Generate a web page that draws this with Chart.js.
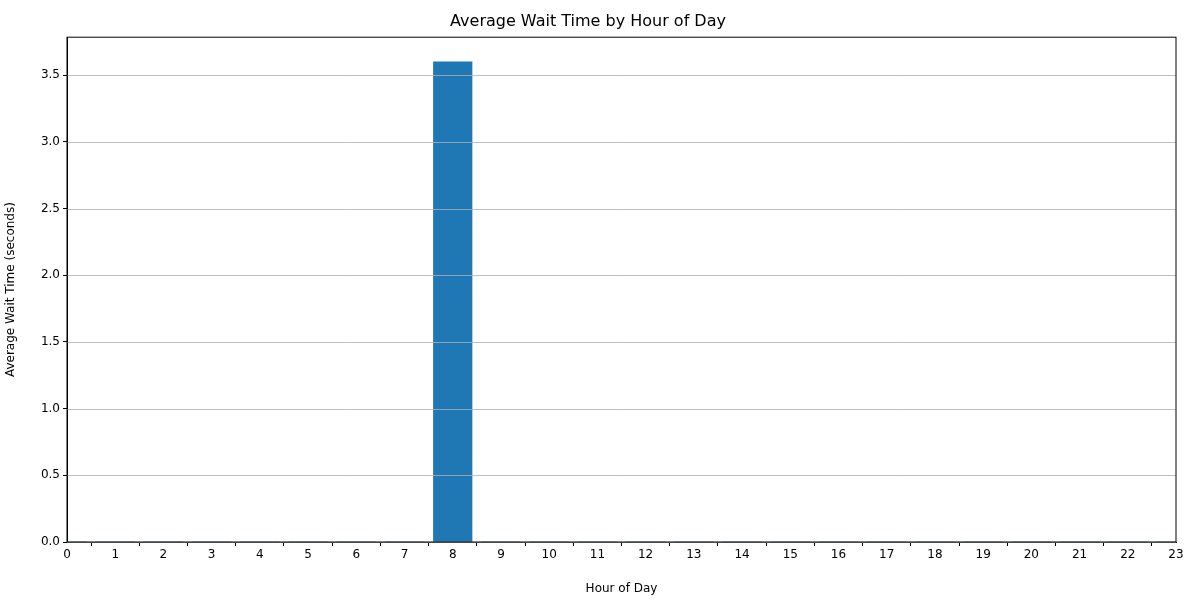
<!DOCTYPE html>
<html>
<head>
<meta charset="utf-8">
<script src="https://cdn.jsdelivr.net/npm/chart.js@4/dist/chart.umd.min.js"></script>
<style>body{margin:0;background:#fff}#wrap{width:1200px;height:600px}</style>
</head>
<body>
<div id="wrap"><canvas id="chart"></canvas></div>
<script>
const hours = [0,1,2,3,4,5,6,7,8,9,10,11,12,13,14,15,16,17,18,19,20,21,22,23];
const waitTimes = [0,0,0,0,0,0,0,0,3.6,0,0,0,0,0,0,0,0,0,0,0,0,0,0,0];
const yTicks = [0, 0.5, 1.0, 1.5, 2.0, 2.5, 3.0, 3.5];

Chart.defaults.font.family = 'DejaVu Sans';
Chart.defaults.font.size = 12;
Chart.defaults.color = '#000';

// horizontal grid over the bars, plus the axes frame
const frame = {
  id: 'frame',
  afterDatasetsDraw(c) {
    const a = c.chartArea, g = c.ctx, y = c.scales.y;
    g.save();
    g.strokeStyle = '#b0b0b0';
    g.lineWidth = 0.8;
    yTicks.forEach(v => {
      const p = Math.round(y.getPixelForValue(v)) + 0.5;
      g.beginPath(); g.moveTo(a.left, p); g.lineTo(a.right, p); g.stroke();
    });
    g.strokeStyle = '#000';
    g.lineWidth = 1;
    g.strokeRect(a.left, a.top, a.right - a.left, a.bottom - a.top);
    g.restore();
  }
};

new Chart(document.getElementById('chart'), {
  type: 'bar',
  data: {
    datasets: [{
      data: hours.map((h, i) => ({x: h, y: waitTimes[i]})),
      backgroundColor: '#1f77b4',
      borderWidth: 0,
      barThickness: 38.6
    }]
  },
  options: {
    responsive: true,
    maintainAspectRatio: false,
    animation: false,
    layout: {padding: {right: 24, top: 0}},
    plugins: {
      legend: {display: false},
      tooltip: {enabled: false},
      title: {display: true, text: 'Average Wait Time by Hour of Day',
        font: {size: 16, weight: 'normal'}, padding: {top: 12, bottom: 6}}
    },
    scales: {
      x: {
        type: 'linear', min: 0, max: 23, offset: false,
        afterBuildTicks(s) { s.ticks = hours.map(v => ({value: v})); },
        ticks: {maxRotation: 0, autoSkip: false, padding: 2},
        grid: {drawOnChartArea: false, color: '#000', tickLength: 4},
        border: {color: '#000'},
        title: {display: true, text: 'Hour of Day', padding: {top: 0}},
        afterFit(s) { s.height = 58; }
      },
      y: {
        min: 0, max: 3.785,
        afterBuildTicks(s) { s.ticks = yTicks.map(v => ({value: v})); },
        ticks: {callback: v => v.toFixed(1)},
        grid: {drawOnChartArea: false, color: '#000', tickLength: 4},
        border: {color: '#000'},
        title: {display: true, text: 'Average Wait Time (seconds)', padding: {bottom: 0}},
        afterFit(s) { s.width = 67; }
      }
    }
  },
  plugins: [frame]
});
</script>
</body>
</html>
